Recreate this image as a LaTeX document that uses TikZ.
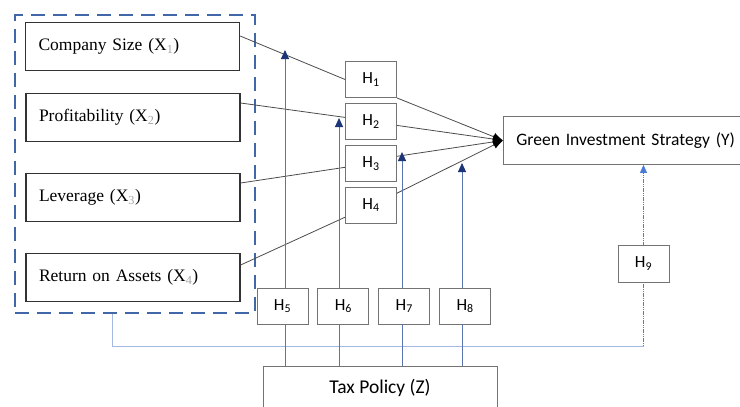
\documentclass[tikz,border=0pt]{standalone}
\usepackage{fontspec}
\setmainfont{Carlito}
\newfontfamily\romanfont{Liberation Serif}
\usetikzlibrary{arrows.meta}
\usetikzlibrary{positioning}

\definecolor{dashblue}{HTML}{4267A8}
\definecolor{linkblue}{HTML}{5B74AE}
\definecolor{tipblue}{HTML}{1B3577}
\definecolor{paleblue}{HTML}{A3B9E2}
\definecolor{dotblue}{HTML}{4A7CD6}

\begin{document}
\begin{tikzpicture}[x=1pt, y=-1pt,
	varbox/.style={draw=black!80, line width=1.3pt, fill=white, inner xsep=13pt, inner ysep=0pt,
		text width=188pt, minimum height=48pt, align=left, font=\romanfont\fontsize{17.5}{20}\selectfont},
	hypbox/.style={draw=black!55, line width=0.9pt, fill=white, inner sep=0pt,
		minimum width=51pt, minimum height=36pt, font=\fontsize{17}{20}\selectfont},
	groupbox/.style={draw=dashblue, line width=2.4pt, dash pattern=on 14pt off 8pt},
	link/.style={draw=black!70, line width=0.8pt},
	linkin/.style={link, -{Latex[length=10pt,width=8pt,color=black]}},
	modline/.style={draw=linkblue, line width=1pt},
	modarrow/.style={modline, -{Triangle[width=8pt,length=9pt,color=tipblue]}},
	paleline/.style={draw=paleblue, line width=0.9pt},
	dotline/.style={draw=dotblue, line width=0.9pt, dash pattern=on 1.2pt off 0.6pt},
	dotarrow/.style={dotline, -{Triangle[width=7pt,length=8pt,color=dotblue]}}]
	\useasboundingbox (0,0) rectangle (740,407);

	 \node [groupbox, minimum width=240pt, minimum height=298pt] (grp) at (135,164) {};
	 \node [varbox] (cs) at (132.5,46.5) {Company Size (X\textsubscript{\color{black!35}1})};
	 \node [varbox] (pr) at (133,117.5) {Profitability (X\textsubscript{\color{black!35}2})};
	 \node [varbox] (lv) at (133,197.5) {Leverage (X\textsubscript{\color{black!35}3})};
	 \node [varbox] (roa) at (133,277.5) {Return on Assets (X\textsubscript{\color{black!35}4})};

	 \node [hypbox] (h1) at (371,79.5) {H\textsubscript{1}};
	 \node [hypbox, below=5pt of h1] (h2) {H\textsubscript{2}};
	 \node [hypbox, below=5pt of h2] (h3) {H\textsubscript{3}};
	 \node [hypbox, below=5pt of h3] (h4) {H\textsubscript{4}};
	 \node [hypbox] (h5) at (282.5,306) {H\textsubscript{5}};
	 \node [hypbox, right=9pt of h5] (h6) {H\textsubscript{6}};
	 \node [hypbox, right=9pt of h6] (h7) {H\textsubscript{7}};
	 \node [hypbox, right=9pt of h7] (h8) {H\textsubscript{8}};
	 \node [hypbox, minimum height=37pt] (h9) at (643.5,263.5) {H\textsubscript{9}};

	 \node [draw=black!55, line width=0.9pt, anchor=north west, inner xsep=13pt, text width=235pt,
		minimum height=48pt, align=left, font=\fontsize{17.5}{20}\selectfont] (y) at (503,116) {Green Investment Strategy (Y)};
	 \node [draw=black!55, line width=0.9pt, minimum width=234pt, minimum height=44pt,
		font=\fontsize{19.5}{22}\selectfont] (tax) at (380,388) {Tax Policy (Z)};

	 \coordinate (t5) at (285,50);
	 \coordinate (t6) at (339,118);
	 \coordinate (t7) at (402,152);
	 \coordinate (t8) at (462,163);
	 \coordinate (fb) at (112,346);

	 \draw [link] ([yshift=10.5pt]cs.east) -- (h1.west);
	 \draw [link] ([yshift=14.5pt]pr.east) -- ([yshift=4pt]h2.west);
	 \draw [link] ([yshift=14.5pt]lv.east) -- ([yshift=-4pt]h3.west);
	 \draw [link] ([yshift=12.5pt]roa.east) -- ([yshift=-12pt]h4.west);
	 \draw [linkin] (h1.south east) -- (y.west);
	 \draw [linkin] ([yshift=-4pt]h2.east) -- (y.west);
	 \draw [linkin] ([yshift=7pt]h3.east) -- (y.west);
	 \draw [linkin] ([yshift=12pt]h4.east) -- (y.west);

	 \draw [paleline] (grp.south -| fb) -- (fb) -- (fb -| h9.south);
	 \draw [dotline] (fb -| h9.south) -- (h9.south);
	 \draw [dotarrow] (h9.north) -- (y.south -| h9.north);

	 \draw [modline] (t5 |- tax.north) -- (t5 |- h5.south);
	 \draw [modarrow] (t5 |- h5.north) -- (t5);
	 \draw [modline] (t6 |- tax.north) -- (t6 |- h6.south);
	 \draw [modarrow] (t6 |- h6.north) -- (t6);
	 \draw [modline] (t7 |- tax.north) -- (t7 |- h7.south);
	 \draw [modarrow] (t7 |- h7.north) -- (t7);
	 \draw [modline] (t8 |- tax.north) -- (t8 |- h8.south);
	 \draw [modarrow] (t8 |- h8.north) -- (t8);
 \end{tikzpicture}
\end{document}
